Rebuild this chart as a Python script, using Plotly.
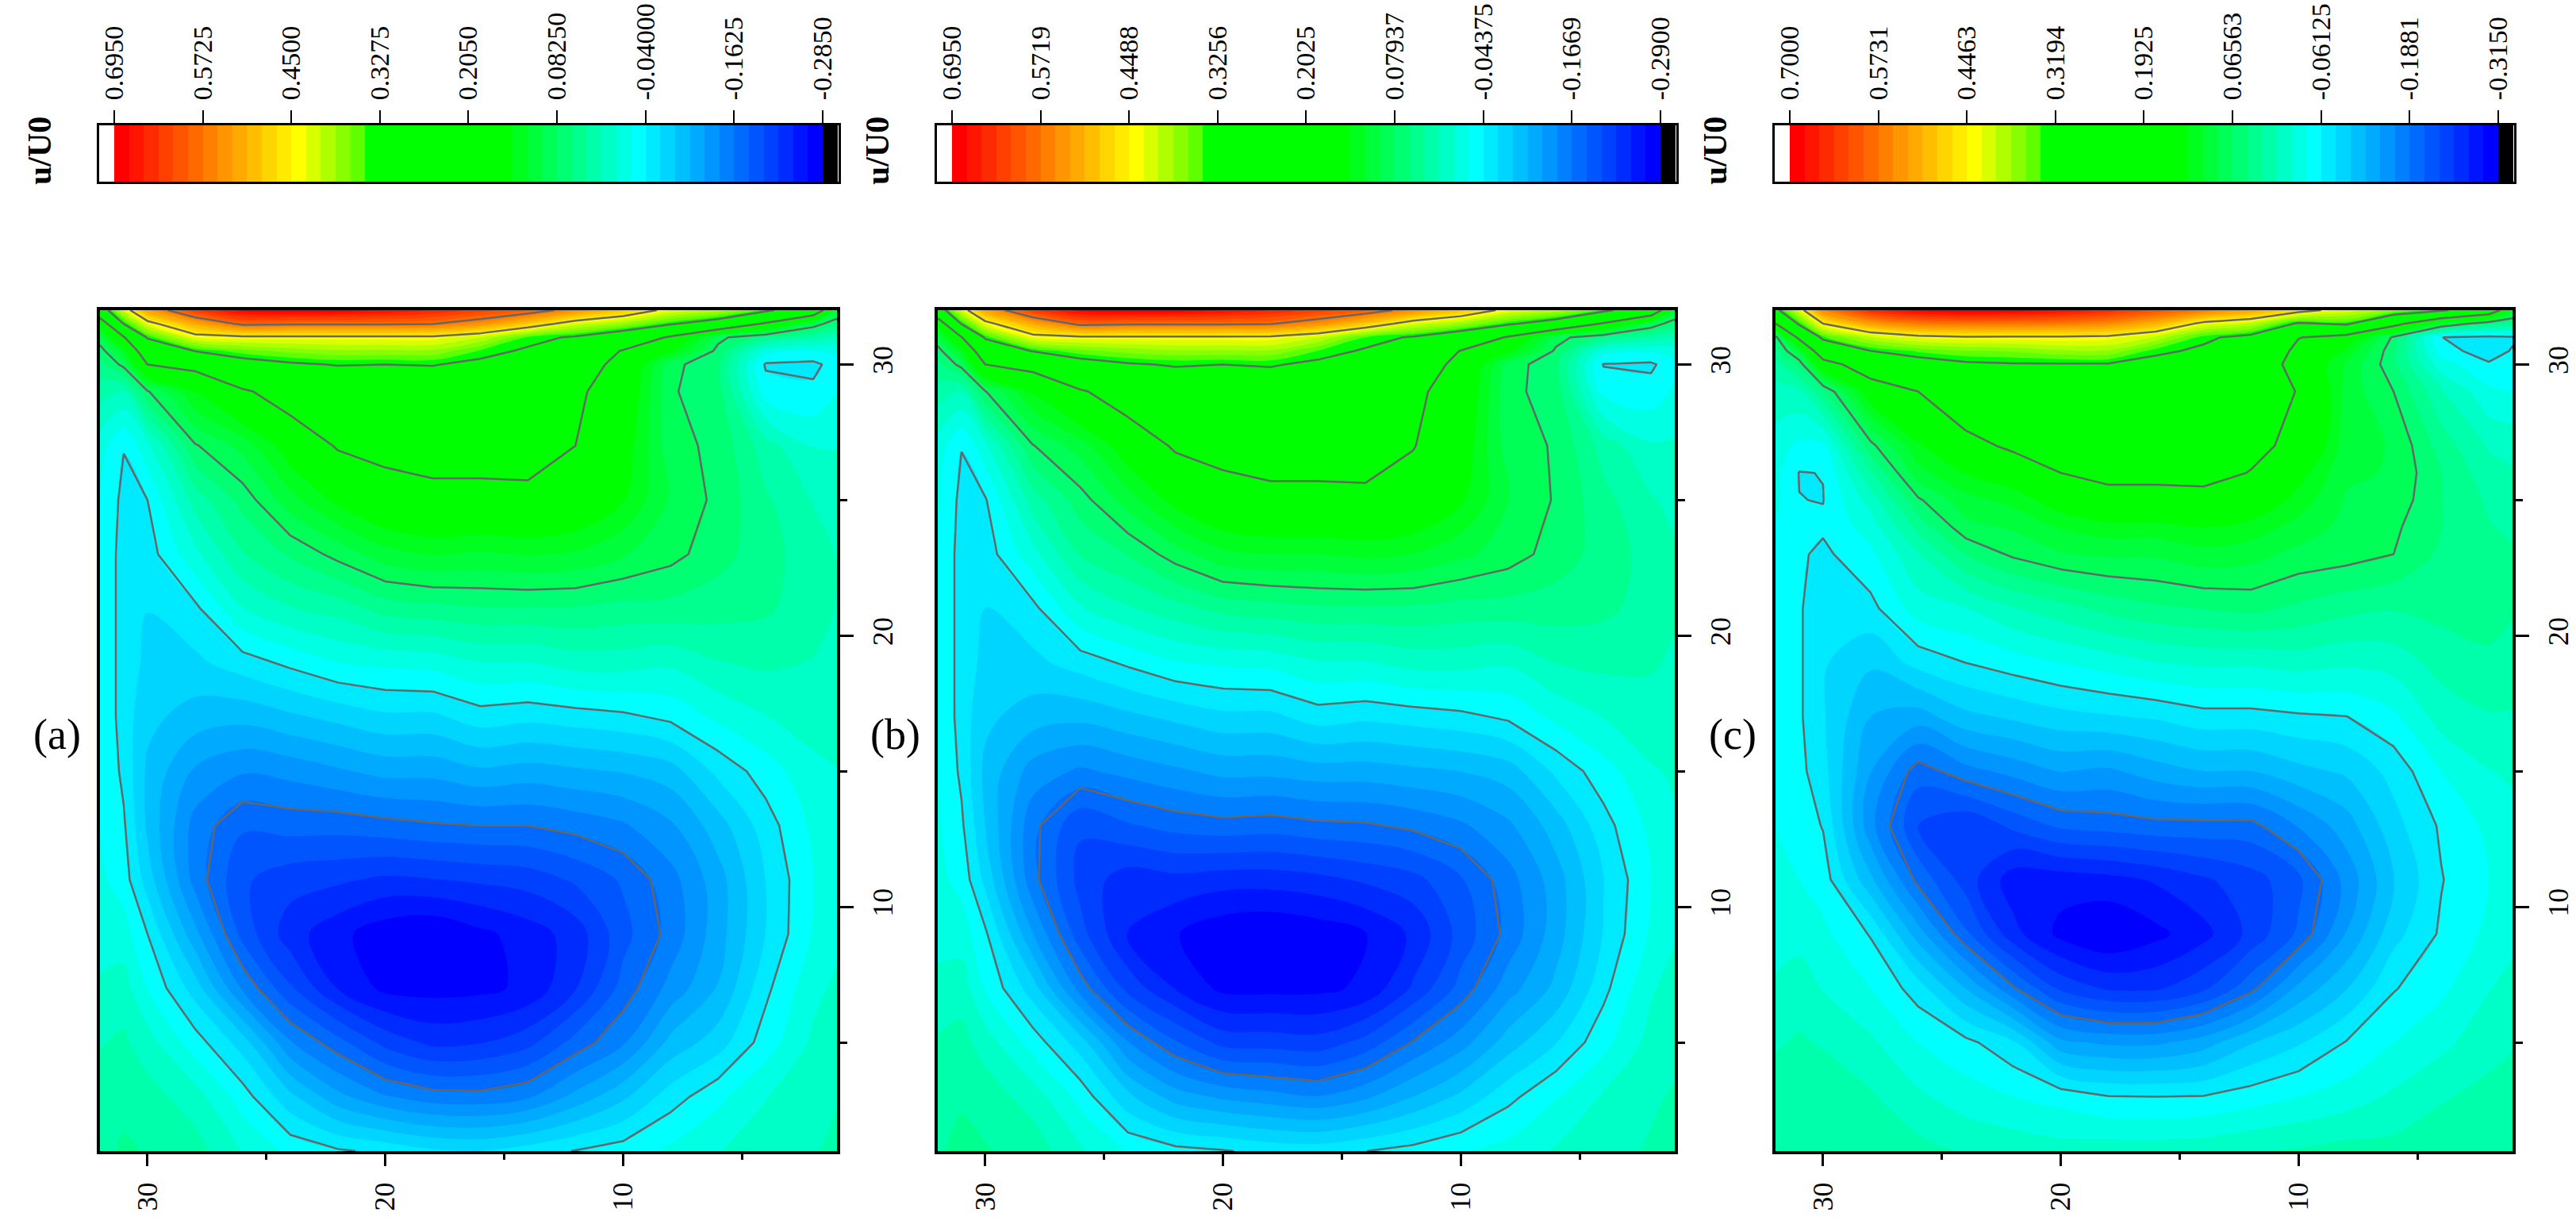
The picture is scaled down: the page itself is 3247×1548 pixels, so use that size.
import plotly.graph_objects as go

W, H = 3247, 1548
x_grid = [32, 31, 30, 28, 26, 24, 22, 20, 18, 16, 14, 12, 10, 8, 6, 4, 2, 1]
y_grid = [1, 3, 5, 7, 9, 11, 13, 15, 17, 19, 21, 23, 25, 27, 29, 30, 30.5, 31, 31.5, 32]
y_grid_c = [1, 3, 5, 7, 9, 11, 13, 15, 17, 19, 21, 23, 24, 25, 26, 27, 29, 30, 30.5, 31, 31.5, 32]

# one list per x column, bottom to top
u_a = [
 [.035,.03,.02,.005,-.01,-.015,-.02,-.02,-.02,-.02,-.02,-.02,-.02,-.01,.03,.055,.07,.10,.15,.28],
 [.045,.035,.025,.01,-.01,-.03,-.037,-.045,-.05,-.05,-.05,-.05,-.046,-.039,.02,.09,.13,.20,.33,.42],
 [.04,.03,.01,-.02,-.04,-.07,-.085,-.085,-.075,-.065,-.06,-.05,-.04,-.005,.08,.205,.26,.335,.43,.53],
 [.03,.01,-.03,-.07,-.115,-.15,-.15,-.125,-.09,-.065,-.045,-.005,.03,.08,.145,.225,.33,.43,.52,.63],
 [.0,-.03,-.07,-.145,-.19,-.2,-.18,-.14,-.095,-.05,0,.04,.07,.11,.195,.30,.36,.44,.585,.685],
 [-.025,-.075,-.14,-.2,-.235,-.215,-.175,-.135,-.085,-.035,.02,.065,.115,.16,.24,.32,.375,.44,.58,.695],
 [-.037,-.115,-.175,-.245,-.258,-.22,-.175,-.125,-.075,-.02,.03,.09,.15,.21,.28,.33,.385,.44,.58,.69],
 [-.045,-.14,-.21,-.27,-.278,-.228,-.17,-.115,-.065,-.015,.05,.115,.175,.225,.285,.3275,.385,.44,.58,.675],
 [-.057,-.153,-.229,-.272,-.285,-.225,-.165,-.115,-.065,-.012,.055,.125,.185,.235,.285,.33,.385,.44,.575,.655],
 [-.06,-.155,-.225,-.27,-.27,-.22,-.1625,-.105,-.05,.0,.06,.12,.185,.235,.29,.315,.345,.41,.545,.625],
 [-.05,-.145,-.21,-.26,-.255,-.215,-.1625,-.11,-.055,.0,.06,.125,.185,.24,.285,.305,.32,.345,.49,.60],
 [-.039,-.115,-.175,-.225,-.235,-.2,-.155,-.105,-.05,.01,.06,.12,.175,.205,.215,.23,.27,.32,.42,.55],
 [-.03,-.085,-.145,-.175,-.19,-.18,-.145,-.1,-.045,.01,.055,.105,.145,.16,.175,.19,.20,.275,.385,.50],
 [-.015,-.05,-.095,-.135,-.155,-.15,-.125,-.09,-.035,.005,.055,.09,.10,.09,.085,.09,.15,.195,.335,.43],
 [.0,-.025,-.07,-.10,-.11,-.11,-.09,-.055,-.015,.02,.05,.07,.077,.077,.07,.065,.075,.09,.29,.40],
 [.01,.0,-.03,-.045,-.06,-.06,-.05,-.03,.0,.025,.045,.05,.045,.03,-.03,-.043,-.01,.055,.195,.34],
 [.02,.015,.005,-.005,-.018,-.02,-.015,-.005,.01,.02,.03,.03,.02,.0,-.035,-.046,-.02,.03,.10,.27],
 [.025,.02,.012,.005,-.005,-.005,-.005,.0,.01,.015,.02,.02,.012,.0,-.02,-.03,-.015,.02,.06,.12],
]
u_b = [
 [.035,.03,.02,.005,-.012,-.017,-.02,-.022,-.022,-.022,-.022,-.022,-.02,-.012,.028,.053,.068,.10,.15,.28],
 [.045,.035,.025,.008,-.012,-.03,-.04,-.048,-.053,-.053,-.053,-.053,-.05,-.043,.018,.088,.13,.20,.33,.42],
 [.04,.03,.008,-.025,-.04,-.07,-.085,-.09,-.08,-.07,-.065,-.055,-.046,-.008,.078,.2025,.26,.335,.43,.53],
 [.03,.008,-.032,-.075,-.125,-.16,-.16,-.135,-.095,-.07,-.05,-.01,.028,.078,.145,.225,.33,.43,.52,.63],
 [0,-.03,-.075,-.155,-.20,-.215,-.205,-.15,-.10,-.055,-.005,.04,.07,.11,.195,.30,.36,.44,.585,.685],
 [-.025,-.08,-.145,-.215,-.25,-.24,-.19,-.14,-.09,-.04,.015,.06,.11,.16,.24,.32,.375,.44,.58,.695],
 [-.037,-.115,-.185,-.25,-.268,-.235,-.18,-.13,-.08,-.025,.03,.09,.15,.21,.28,.33,.385,.44,.58,.69],
 [-.042,-.13,-.215,-.275,-.285,-.24,-.175,-.12,-.07,-.02,.045,.115,.175,.225,.285,.3256,.385,.44,.58,.675],
 [-.05,-.138,-.217,-.276,-.29,-.24,-.178,-.12,-.07,-.017,.05,.12,.185,.235,.285,.33,.385,.44,.575,.655],
 [-.052,-.145,-.22,-.275,-.283,-.235,-.172,-.115,-.055,-.005,.055,.12,.185,.235,.29,.315,.345,.41,.545,.625],
 [-.044,-.13,-.20,-.265,-.27,-.225,-.17,-.115,-.06,-.005,.055,.125,.185,.24,.285,.305,.32,.345,.49,.60],
 [-.036,-.105,-.165,-.225,-.245,-.215,-.162,-.11,-.055,.005,.055,.12,.175,.205,.215,.23,.27,.32,.42,.55],
 [-.025,-.08,-.135,-.18,-.20,-.19,-.15,-.105,-.05,.005,.05,.105,.145,.16,.175,.19,.20,.275,.385,.50],
 [-.015,-.05,-.095,-.135,-.16,-.155,-.13,-.095,-.04,.0,.05,.09,.10,.09,.085,.09,.15,.195,.335,.43],
 [0,-.025,-.065,-.10,-.115,-.115,-.095,-.06,-.018,.018,.048,.07,.077,.077,.07,.065,.075,.09,.29,.40],
 [.01,0,-.03,-.05,-.063,-.065,-.052,-.032,-.002,.023,.043,.05,.045,.03,-.03,-.045,-.012,.055,.195,.34],
 [.02,.015,.005,-.005,-.02,-.024,-.018,-.005,.01,.02,.03,.03,.02,0,-.035,-.048,-.02,.03,.10,.27],
 [.025,.02,.012,.005,-.005,-.007,-.005,0,.01,.015,.02,.02,.012,0,-.02,-.03,-.015,.02,.06,.12],
]
u_c = [
 [.015,.012,0,-.015,-.03,-.035,-.04,-.04,-.04,-.04,-.04,-.04,-.04,-.035,-.035,-.03,-.005,.015,.035,.055,.19,.30],
 [.02,.015,.005,-.01,-.025,-.04,-.05,-.055,-.058,-.058,-.058,-.058,-.058,-.0609,-.062,-.045,-.002,.05,.10,.21,.33,.42],
 [.022,.017,0,-.02,-.035,-.05,-.0625,-.075,-.08,-.08,-.08,-.066,-.058,-.0618,-.0608,-.045,.04,.16,.25,.335,.4463,.56],
 [.02,.005,-.015,-.04,-.063,-.12,-.16,-.145,-.125,-.10,-.068,-.045,-.03,-.01,.02,.058,.15,.24,.3194,.40,.53,.65],
 [.01,-.015,-.04,-.072,-.135,-.195,-.2304,-.2,-.135,-.075,-.03,0,.03,.062,.10,.125,.1925,.29,.345,.43,.565,.69],
 [0,-.03,-.055,-.125,-.205,-.24,-.25,-.175,-.11,-.0612,-.02,.045,.08,.10,.13,.17,.25,.31,.36,.44,.5731,.70],
 [-.005,-.04,-.078,-.185,-.265,-.285,-.225,-.16,-.10,-.05,0,.07,.09,.115,.15,.205,.26,.315,.365,.44,.57,.695],
 [-.01,-.048,-.14,-.235,-.30,-.285,-.205,-.145,-.09,-.04,.015,.085,.11,.145,.1925,.215,.27,.315,.38,.44,.565,.68],
 [-.008,-.06,-.15,-.255,-.315,-.28,-.20,-.15,-.085,-.03,.03,.09,.12,.17,.21,.235,.28,.315,.38,.435,.55,.65],
 [-.008,-.0612,-.15,-.255,-.30,-.27,-.195,-.135,-.08,-.02,.04,.09,.12,.17,.21,.235,.28,.30,.33,.40,.51,.61],
 [-.005,-.06,-.135,-.235,-.28,-.255,-.195,-.125,-.07,-.015,.045,.10,.13,.17,.215,.24,.28,.30,.31,.33,.43,.57],
 [0,-.05,-.105,-.195,-.245,-.24,-.195,-.125,-.07,-.015,.05,.095,.12,.155,.19,.21,.225,.245,.265,.30,.40,.53],
 [.005,-.04,-.085,-.14,-.205,-.215,-.165,-.11,-.065,-.01,.04,.08,.10,.12,.14,.175,.19,.165,.175,.195,.31,.47],
 [.01,-.03,-.06,-.105,-.145,-.16,-.135,-.10,-.062,-.015,.03,.075,.08,.085,.09,.095,.10,.105,.125,.165,.33,.42],
 [.01,-.015,-.04,-.063,-.09,-.105,-.09,-.075,-.045,-.01,.025,.0656,.07,.08,.085,.085,.0656,.05,.05,.06,.22,.37],
 [.015,0,-.025,-.045,-.058,-.0625,-.058,-.04,-.01,.01,.03,.04,.045,.045,.045,.035,.005,-.03,-.05,-.061,.10,.33],
 [.015,.008,-.005,-.02,-.035,-.04,-.035,-.02,0,.02,.03,.03,.025,.02,.01,0,-.035,-.058,-.075,-.068,.04,.26],
 [.02,.012,0,-.012,-.025,-.03,-.028,-.015,0,.015,.025,.025,.02,.015,.005,-.005,-.04,-.052,-.059,-.065,.03,.12],
]

ticks_a = ["0.6950","0.5725","0.4500","0.3275","0.2050","0.08250","-0.04000","-0.1625","-0.2850"]
ticks_b = ["0.6950","0.5719","0.4488","0.3256","0.2025","0.07937","-0.04375","-0.1669","-0.2900"]
ticks_c = ["0.7000","0.5731","0.4463","0.3194","0.1925","0.06563","-0.06125","-0.1881","-0.3150"]
panel_names = ["(a)", "(b)", "(c)"]
axis_ticks = [10, 20, 30]
axis_minor = [5, 15, 25]

scale = [
    [0.0, "#0000ff"], [0.0104, "#0000ff"], [0.2604, "#00ffff"], [0.4490, "#00ff00"],
    [0.6454, "#00ff00"], [0.6558, "#5fff00"], [0.7398, "#ffff00"], [0.9896, "#ff0000"], [1.0, "#ff0000"],
]
SERIF = "Liberation Serif"
N_BANDS = 48

fig = go.Figure()
left_px = [126, 1182, 2238]
PW = 929

def dom_x(a, b):
    return [a / W, b / W]

def dom_y(top, bot):
    return [1 - bot / H, 1 - top / H]

for i, (z, yg, labels) in enumerate(zip([u_a, u_b, u_c], [y_grid, y_grid, y_grid_c], [ticks_a, ticks_b, ticks_c])):
    vals = [float(t) for t in labels]
    zmax, zmin = vals[0], vals[-1]
    band = (zmax - zmin) / N_BANDS
    step = (zmax - zmin) / 8
    ax_main = 2 * i + 1
    ax_bar = 2 * i + 2
    xa, ya = f"x{ax_main}", f"y{ax_main}"
    xb, yb = f"x{ax_bar}", f"y{ax_bar}"
    fig.add_trace(go.Contour(x=x_grid, y=yg, z=z, transpose=True, colorscale=scale, zmin=zmin, zmax=zmax,
                             autocontour=False, showscale=False, line_width=0,
                             contours=dict(coloring="fill", start=zmin, end=zmax, size=band, showlines=False),
                             xaxis=xa, yaxis=ya))
    fig.add_trace(go.Contour(x=x_grid, y=yg, z=z, transpose=True, autocontour=False, showscale=False,
                             contours=dict(coloring="none", start=vals[-2], end=vals[1], size=step),
                             line=dict(color="#666666", width=2.5, smoothing=0), xaxis=xa, yaxis=ya))
    mids = [zmax - band * (k + 0.5) for k in range(N_BANDS)]
    fig.add_trace(go.Heatmap(z=[mids], x0=mids[0], dx=-band, y=[0], colorscale=scale, zmin=zmin, zmax=zmax,
                             showscale=False, xaxis=xb, yaxis=yb))
    fig.add_trace(go.Heatmap(z=[[1]], x0=zmin - band / 2, dx=band, y=[0], colorscale=[[0, "black"], [1, "black"]],
                             showscale=False, xaxis=xb, yaxis=yb))
    L = left_px[i]
    ax_common = dict(showgrid=False, zeroline=False, showline=True, linecolor="black", mirror=True, ticks="outside",
                     tickcolor="black", tickangle=-90, tickfont=dict(family=SERIF, size=36, color="black"),
                     ticklabelstandoff=6, automargin=False)
    main_x = dict(domain=dom_x(L, L + PW), range=[32, 1], linewidth=4, tickvals=axis_ticks, ticklen=15, tickwidth=3,
                  minor=dict(tickvals=axis_minor, ticklen=7, tickwidth=3, ticks="outside", tickcolor="black"),
                  anchor=ya, **ax_common)
    main_y = dict(domain=dom_y(391, 1451), range=[1, 32], linewidth=4, side="right", tickvals=axis_ticks, ticklen=17,
                  tickwidth=3, minor=dict(tickvals=axis_minor, ticklen=9, tickwidth=3, ticks="outside", tickcolor="black"),
                  anchor=xa, **ax_common)
    bar_x = dict(domain=dom_x(L - 1, L + PW + 2), range=[zmax + band * 1.02, zmin - band * 1.08], side="top",
                 showgrid=False, zeroline=False, showline=True, linecolor="black", linewidth=3, mirror=True,
                 ticks="outside", tickcolor="black", ticklen=16, tickwidth=2, tickvals=vals, ticktext=labels,
                 tickangle=-90, tickfont=dict(family=SERIF, size=34, color="black"), ticklabelstandoff=6,
                 automargin=False, anchor=yb)
    bar_y = dict(domain=dom_y(158, 229), range=[-0.5, 0.5], showticklabels=False, ticks="", showgrid=False,
                 zeroline=False, showline=True, linecolor="black", linewidth=3, mirror=True, anchor=xb)
    suffix = "" if ax_main == 1 else str(ax_main)
    fig.layout["xaxis" + suffix] = main_x
    fig.layout["yaxis" + suffix] = main_y
    fig.layout[f"xaxis{ax_bar}"] = bar_x
    fig.layout[f"yaxis{ax_bar}"] = bar_y
    fig.add_annotation(xref="paper", yref="paper", x=(L - 76) / W, y=1 - 190 / H, text="<b>u/U0</b>", textangle=-90,
                       showarrow=False, font=dict(family=SERIF, size=42, color="black"), xanchor="center", yanchor="middle")
    fig.add_annotation(xref="paper", yref="paper", x=(L - 54) / W, y=1 - 926 / H, text=panel_names[i], showarrow=False,
                       font=dict(family=SERIF, size=54, color="black"), xanchor="center", yanchor="middle")

fig.update_layout(width=W, height=H, margin=dict(l=0, r=0, t=0, b=0, autoexpand=False), paper_bgcolor="white",
                  plot_bgcolor="white", showlegend=False)
fig.write_html("out.html", post_script="document.body.style.margin='0';", config={"displayModeBar": False})
